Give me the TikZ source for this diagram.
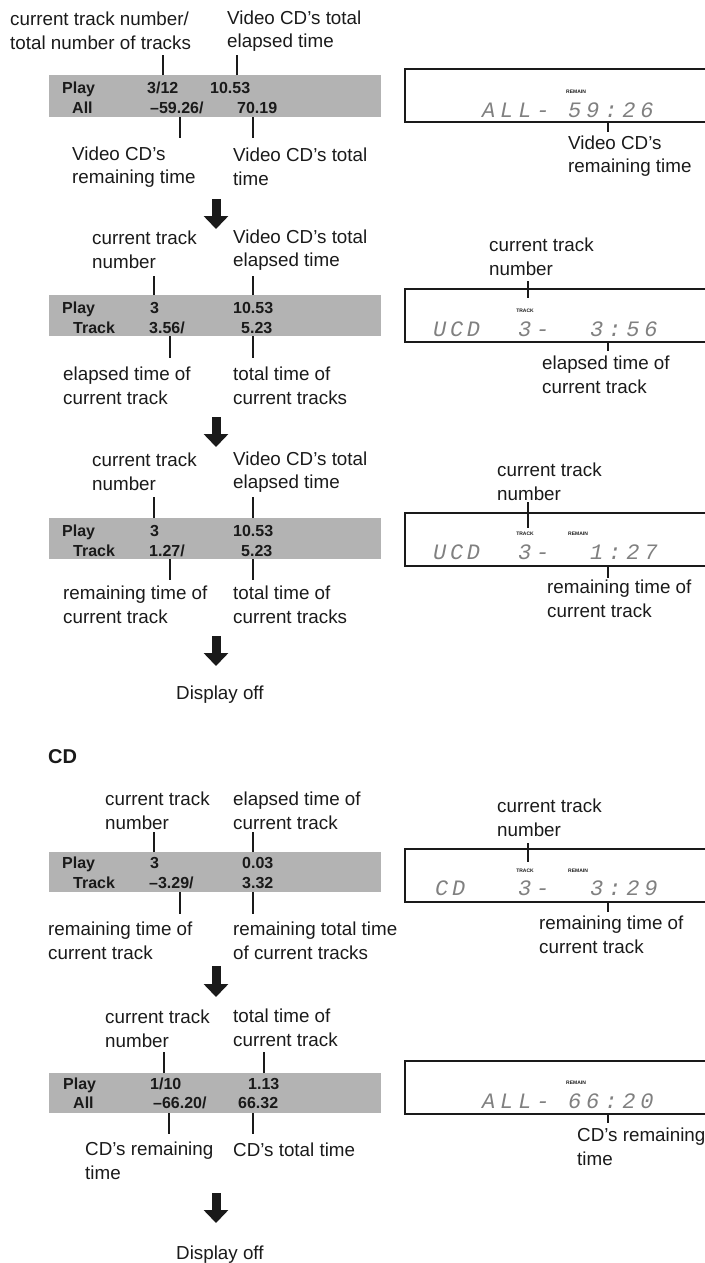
\documentclass[tikz,border=0pt]{standalone}
\usepackage{fontspec}
\setmainfont{Liberation Sans}
\newfontfamily\lcdfont[LetterSpace=22]{Liberation Mono}
\usetikzlibrary{arrows.meta}
\definecolor{ink}{HTML}{1A1A1A}
\definecolor{barfill}{HTML}{B3B3B3}
\definecolor{lcdgray}{HTML}{808080}
\tikzset{
  font=\fontsize{18.8}{23.5}\selectfont,
  >={Triangle[length=13pt,width=24pt]},
  bar/.style={fill=barfill, draw=none, anchor=north west, inner sep=0pt,
    minimum width=332pt},
  barword/.style={font=\fontsize{16}{18}\selectfont\bfseries, text=ink,
    anchor=base west, inner sep=0pt},
  caption/.style={align=left, anchor=west, inner sep=0pt, text=ink},
  leader/.style={draw=ink, line width=1.2pt},
  pointer/.style={draw=ink, line width=1.8pt},
  downarrow/.style={draw=ink, line width=9pt, ->},
  lcdbox/.style={draw=ink, line width=1.4pt},
  lcdtext/.style={font=\lcdfont\itshape\fontsize{22}{22}\selectfont,
    text=lcdgray, anchor=base west, inner sep=0pt},
  tinytag/.style={font=\fontsize{5}{6}\selectfont\bfseries, text=ink,
    inner sep=0pt}
}

\begin{document}
\begin{tikzpicture}[x=1pt,y=-1pt]
  \useasboundingbox (0,0) rectangle (704,1263);

  % -------------------------------------------------------------------
  % Video CD, all tracks.
  \node[caption] (numA) at (10,31) {current track number/\\total number of tracks};
  \node[caption] (elA) at (227,31) {Video CD’s total\\elapsed time};
  \node[bar, minimum height=42pt] (barA) at (49,75) {};
  \node[barword] (playA) at (62,93) {Play};
  \node[barword] (trkA) at (147,93) {3/12};
  \node[barword] (elapA) at (210,93) {10.53};
  \node[barword] (allA) at (72,113) {All};
  \node[barword] (remA) at (150,113) {–59.26/};
  \node[barword] (totA) at (237,113) {70.19};
  \draw[leader] (barA.north -| 163,0) -- +(0,-20);
  \draw[leader] (barA.north -| 237,0) -- +(0,-20);
  \draw[leader] (barA.south -| 180,0) -- +(0,21);
  \draw[leader] (barA.south -| 253,0) -- +(0,21);
  \node[caption] (remCapA) at (72,167) {Video CD’s\\remaining time};
  \node[caption] (totCapA) at (233,167) {Video CD’s total\\time};
  \draw[downarrow] (216,199) -- (216,229);

  \draw[lcdbox] (706,69) -- (405,69) -- (405,122) -- (706,122);
  \node[tinytag] (remainTagA) at (576,92) {REMAIN};
  \node[lcdtext] (lcdLeftA) at (482,117) {ALL-};
  \node[lcdtext] (lcdRightA) at (568,117) {59:26};
  \draw[pointer] (608,122) -- (608,132);
  \node[caption] (lcdCapA) at (568,156) {Video CD’s\\remaining time};

  % -------------------------------------------------------------------
  % Video CD, current track elapsed.
  \node[caption] (numB) at (92,250) {current track\\number};
  \node[caption] (elB) at (233,250) {Video CD’s total\\elapsed time};
  \node[bar, minimum height=41pt] (barB) at (49,295) {};
  \node[barword] (playB) at (62,313) {Play};
  \node[barword] (trkB) at (150,313) {3};
  \node[barword] (elapB) at (233,313) {10.53};
  \node[barword] (trackB) at (73,333) {Track};
  \node[barword] (curB) at (149,333) {3.56/};
  \node[barword] (totB) at (241,333) {5.23};
  \draw[leader] (barB.north -| 154,0) -- +(0,-19);
  \draw[leader] (barB.north -| 253,0) -- +(0,-19);
  \draw[leader] (barB.south -| 170,0) -- +(0,22);
  \draw[leader] (barB.south -| 253,0) -- +(0,22);
  \node[caption] (curCapB) at (63,386) {elapsed time of\\current track};
  \node[caption] (totCapB) at (233,386) {total time of\\current tracks};
  \draw[downarrow] (216,417) -- (216,447);

  \node[caption] (lcdNumB) at (489,257) {current track\\number};
  \draw[lcdbox] (706,289) -- (405,289) -- (405,342) -- (706,342);
  \draw[pointer] (528,281) -- (528,298);
  \node[tinytag] (trackTagB) at (525,311) {TRACK};
  \node[lcdtext] (lcdModeB) at (433,336) {U\,C\,D};
  \node[lcdtext] (lcdLeftB) at (518,336) {3-};
  \node[lcdtext] (lcdRightB) at (590,336) {3:56};
  \draw[pointer] (608,342) -- (608,351);
  \node[caption] (lcdCapB) at (542,375) {elapsed time of\\current track};

  % -------------------------------------------------------------------
  % Video CD, current track remaining.
  \node[caption] (numC) at (92,472) {current track\\number};
  \node[caption] (elC) at (233,472) {Video CD’s total\\elapsed time};
  \node[bar, minimum height=41pt] (barC) at (49,518) {};
  \node[barword] (playC) at (62,536) {Play};
  \node[barword] (trkC) at (150,536) {3};
  \node[barword] (elapC) at (233,536) {10.53};
  \node[barword] (trackC) at (73,556) {Track};
  \node[barword] (curC) at (149,556) {1.27/};
  \node[barword] (totC) at (241,556) {5.23};
  \draw[leader] (barC.north -| 154,0) -- +(0,-21);
  \draw[leader] (barC.north -| 253,0) -- +(0,-21);
  \draw[leader] (barC.south -| 170,0) -- +(0,21);
  \draw[leader] (barC.south -| 253,0) -- +(0,21);
  \node[caption] (curCapC) at (63,605) {remaining time of\\current track};
  \node[caption] (totCapC) at (233,605) {total time of\\current tracks};
  \draw[downarrow] (216,636) -- (216,666);
  \node[caption] (offC) at (176,695) {Display off};

  \node[caption] (lcdNumC) at (497,482) {current track\\number};
  \draw[lcdbox] (706,513) -- (405,513) -- (405,566) -- (706,566);
  \draw[pointer] (528,502) -- (528,528);
  \node[tinytag] (trackTagC) at (525,534) {TRACK};
  \node[tinytag] (remainTagC) at (578,534) {REMAIN};
  \node[lcdtext] (lcdModeC) at (433,559) {U\,C\,D};
  \node[lcdtext] (lcdLeftC) at (518,559) {3-};
  \node[lcdtext] (lcdRightC) at (590,559) {1:27};
  \draw[pointer] (608,566) -- (608,578);
  \node[caption] (lcdCapC) at (547,599) {remaining time of\\current track};

  % -------------------------------------------------------------------
  % CD, current track.
  \node[caption, font=\fontsize{20}{24}\selectfont\bfseries] (cdHead) at (48,757) {CD};
  \node[caption] (numD) at (105,811) {current track\\number};
  \node[caption] (elD) at (233,811) {elapsed time of\\current track};
  \node[bar, minimum height=40pt] (barD) at (49,852) {};
  \node[barword] (playD) at (62,868) {Play};
  \node[barword] (trkD) at (150,868) {3};
  \node[barword] (elapD) at (242,868) {0.03};
  \node[barword] (trackD) at (73,888) {Track};
  \node[barword] (curD) at (149,888) {–3.29/};
  \node[barword] (totD) at (242,888) {3.32};
  \draw[leader] (barD.north -| 154,0) -- +(0,-20);
  \draw[leader] (barD.north -| 253,0) -- +(0,-20);
  \draw[leader] (barD.south -| 180,0) -- +(0,22);
  \draw[leader] (barD.south -| 253,0) -- +(0,22);
  \node[caption] (curCapD) at (48,941) {remaining time of\\current track};
  \node[caption] (totCapD) at (233,941) {remaining total time\\of current tracks};
  \draw[downarrow] (216,966) -- (216,997);

  \node[caption] (lcdNumD) at (497,818) {current track\\number};
  \draw[lcdbox] (706,849) -- (405,849) -- (405,902) -- (706,902);
  \draw[pointer] (528,843) -- (528,862);
  \node[tinytag] (trackTagD) at (525,871) {TRACK};
  \node[tinytag] (remainTagD) at (578,871) {REMAIN};
  \node[lcdtext] (lcdModeD) at (435,895) {C\,D};
  \node[lcdtext] (lcdLeftD) at (518,895) {3-};
  \node[lcdtext] (lcdRightD) at (590,895) {3:29};
  \draw[pointer] (608,902) -- (608,912);
  \node[caption] (lcdCapD) at (539,935) {remaining time of\\current track};

  % -------------------------------------------------------------------
  % CD, all tracks.
  \node[caption] (numE) at (105,1029) {current track\\number};
  \node[caption] (elE) at (233,1028) {total time of\\current track};
  \node[bar, minimum height=40pt] (barE) at (49,1073) {};
  \node[barword] (playE) at (63,1089) {Play};
  \node[barword] (trkE) at (150,1089) {1/10};
  \node[barword] (elapE) at (248,1089) {1.13};
  \node[barword] (allE) at (73,1108) {All};
  \node[barword] (remE) at (153,1108) {–66.20/};
  \node[barword] (totE) at (238,1108) {66.32};
  \draw[leader] (barE.north -| 164,0) -- +(0,-21);
  \draw[leader] (barE.north -| 264,0) -- +(0,-21);
  \draw[leader] (barE.south -| 169,0) -- +(0,21);
  \draw[leader] (barE.south -| 253,0) -- +(0,21);
  \node[caption] (remCapE) at (85,1161) {CD’s remaining\\time};
  \node[caption] (totCapE) at (233,1150) {CD’s total time};
  \draw[downarrow] (216,1193) -- (216,1223);
  \node[caption] (offE) at (176,1255) {Display off};

  \draw[lcdbox] (706,1061) -- (405,1061) -- (405,1114) -- (706,1114);
  \node[tinytag] (remainTagE) at (576,1083) {REMAIN};
  \node[lcdtext] (lcdLeftE) at (482,1108) {ALL-};
  \node[lcdtext] (lcdRightE) at (568,1108) {66:20};
  \draw[pointer] (608,1114) -- (608,1123);
  \node[caption] (lcdCapE) at (577,1147) {CD’s remaining\\time};
\end{tikzpicture}
\end{document}
